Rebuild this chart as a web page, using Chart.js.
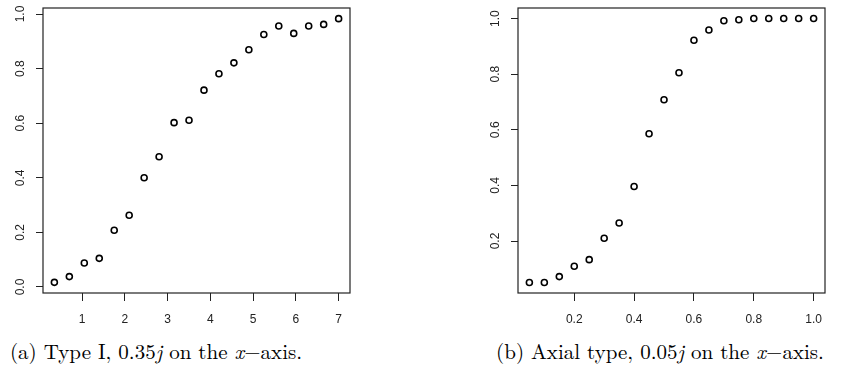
<!DOCTYPE html>
<html>
<head>
<meta charset="utf-8">
<script src="https://cdn.jsdelivr.net/npm/chart.js@4.4.1/dist/chart.umd.min.js"></script>
<style>
body { margin: 0; background: #fff; width: 856px; height: 373px; position: relative; overflow: hidden; }
.panel { position: absolute; top: 0; width: 428px; height: 330px; }
.cap { position: absolute; top: 335px; font-family: 'Latin Modern Roman', 'Liberation Serif', serif; font-size: 21px; white-space: nowrap; transform: translateX(-50%); color: #000; }
.cap i { font-style: italic; }
</style>
</head>
<body>
<div class="panel" style="left:0"><canvas id="chartA" width="428" height="330"></canvas></div>
<div class="panel" style="left:428px"><canvas id="chartB" width="428" height="330"></canvas></div>
<div class="cap" style="left:156px">(a) Type I, 0.35<i>j</i> on the <i>x</i>&minus;axis.</div>
<div class="cap" style="left:660px">(b) Axial type, 0.05<i>j</i> on the <i>x</i>&minus;axis.</div>
<script>
// panel (a): Type I, 0.35j
const typeIX = [0.35, 0.7, 1.05, 1.4, 1.75, 2.1, 2.45, 2.8, 3.15, 3.5, 3.85, 4.2, 4.55, 4.9, 5.25, 5.6, 5.95, 6.3, 6.65, 7.0];
const typeIY = [0.017, 0.038, 0.088, 0.105, 0.208, 0.263, 0.400, 0.477, 0.602, 0.611, 0.721, 0.781, 0.821, 0.869, 0.925, 0.956, 0.929, 0.956, 0.962, 0.983];
const xTicksA = [1, 2, 3, 4, 5, 6, 7];
const yTicksA = [0.0, 0.2, 0.4, 0.6, 0.8, 1.0];

// panel (b): Axial type, 0.05j
const axialX = [0.05, 0.1, 0.15, 0.2, 0.25, 0.3, 0.35, 0.4, 0.45, 0.5, 0.55, 0.6, 0.65, 0.7, 0.75, 0.8, 0.85, 0.9, 0.95, 1.0];
const axialY = [0.051, 0.051, 0.072, 0.109, 0.133, 0.210, 0.265, 0.396, 0.586, 0.708, 0.805, 0.922, 0.959, 0.992, 0.996, 1.0, 1.0, 1.0, 1.0, 1.0];
const xTicksB = [0.2, 0.4, 0.6, 0.8, 1.0];
const yTicksB = [0.2, 0.4, 0.6, 0.8, 1.0];

const ink = '#222';
const tickFont = { family: "'Liberation Sans', Arial, sans-serif", size: 12 };

// R style box + vertical y labels
const rBox = {
    id: 'rBox',
    afterDraw(chart, args, opts) {
        const ctx = chart.ctx;
        const a = chart.chartArea;
        ctx.save();
        ctx.strokeStyle = ink;
        ctx.lineWidth = 1.2;
        ctx.strokeRect(a.left, a.top, a.right - a.left, a.bottom - a.top);
        ctx.fillStyle = ink;
        ctx.font = tickFont.size + 'px ' + tickFont.family;
        ctx.textAlign = 'center';
        ctx.textBaseline = 'middle';
        const ys = chart.scales.y;
        opts.ticks.forEach(v => {
            const py = ys.getPixelForValue(v);
            ctx.save();
            ctx.translate(a.left - 22, py);
            ctx.rotate(-Math.PI / 2);
            ctx.fillText(v.toFixed(1), 0, 0);
            ctx.restore();
        });
        ctx.restore();
    }
};

function makeChart(id, xs, ys, xTicks, yTicks, xMin, xMax, yMin, yMax, yWidth, padRight, xFmt) {
    const points = xs.map((x, i) => ({ x: x, y: ys[i] }));
    return new Chart(document.getElementById(id), {
        type: 'scatter',
        data: {
            datasets: [{
                data: points,
                pointStyle: 'circle',
                pointRadius: 3,
                pointHoverRadius: 3,
                borderWidth: 1.6,
                borderColor: '#000',
                backgroundColor: '#fff'
            }]
        },
        options: {
            responsive: false,
            animation: false,
            events: [],
            layout: { padding: { top: 8, right: padRight, left: 0, bottom: 0 } },
            plugins: { legend: { display: false }, tooltip: { enabled: false }, rBox: { ticks: yTicks } },
            scales: {
                x: {
                    type: 'linear',
                    min: xMin,
                    max: xMax,
                    afterBuildTicks: s => { s.ticks = xTicks.map(v => ({ value: v })); },
                    afterFit: s => { s.height = 37; },
                    grid: { drawOnChartArea: false, drawTicks: true, tickLength: 8, color: ink },
                    border: { display: false },
                    ticks: { autoSkip: false, maxRotation: 0, padding: 11, color: ink, font: tickFont, callback: xFmt }
                },
                y: {
                    type: 'linear',
                    min: yMin,
                    max: yMax,
                    afterBuildTicks: s => { s.ticks = yTicks.map(v => ({ value: v })); },
                    afterFit: s => { s.width = yWidth; },
                    grid: { drawOnChartArea: false, drawTicks: true, tickLength: 7, color: ink },
                    border: { display: false },
                    ticks: { display: false }
                }
            }
        },
        plugins: [rBox]
    });
}

makeChart('chartA', typeIX, typeIY, xTicksA, yTicksA, 0.084, 7.266, -0.022, 1.022, 43, 78, v => String(v));
makeChart('chartB', axialX, axialY, xTicksB, yTicksB, 0.012, 1.038, 0.013, 1.038, 90, 31, v => v.toFixed(1));
</script>
</body>
</html>
